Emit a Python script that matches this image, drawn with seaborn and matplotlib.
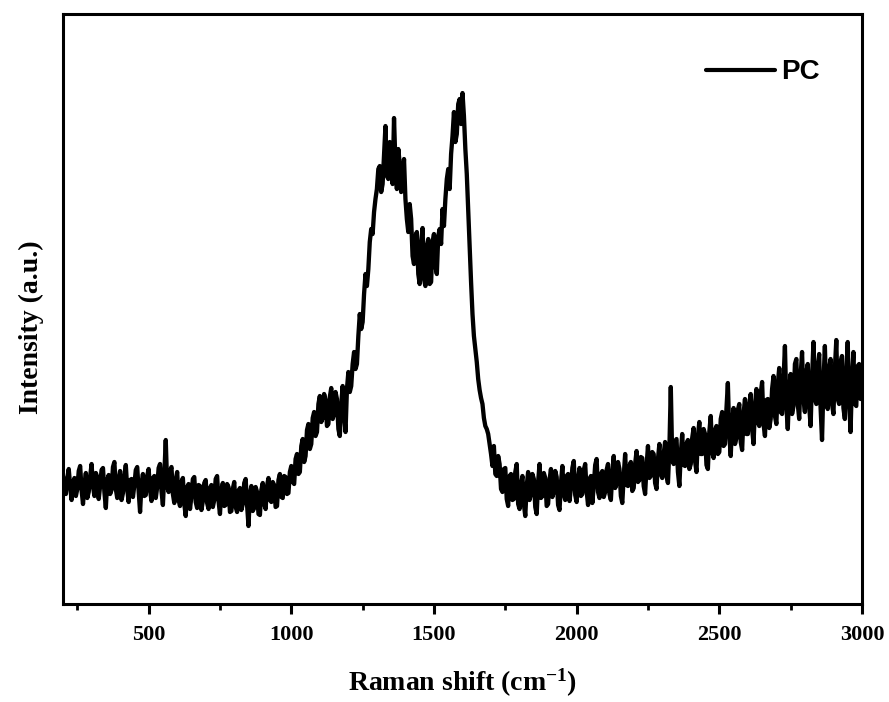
import matplotlib
matplotlib.use("Agg")
import matplotlib.pyplot as plt
import seaborn as sns
import pandas as pd

# Raman shift grid (cm^-1), 5 cm^-1 step, 200 .. 3000
raman_shift = list(range(200, 3001, 5))

# Intensity (arbitrary units), one row per 100 cm^-1
rows_low = [
    [128, 112, 110, 126, 135, 118, 104, 121, 126, 108, 115, 133, 138, 114, 100, 119, 131, 106, 112, 127],  # 200
    [140, 118, 108, 131, 127, 105, 118, 134, 136, 112, 96, 124, 129, 110, 114, 137, 142, 115, 106, 125],   # 300
    [133, 104, 111, 128, 139, 115, 102, 124, 125, 107, 119, 134, 137, 113, 92, 120, 130, 108, 109, 128],   # 400
    [135, 114, 103, 126, 128, 106, 117, 136, 140, 113, 99, 130, 164, 118, 112, 133, 137, 110, 101, 124],   # 500
    [132, 104, 98, 122, 126, 100, 88, 117, 120, 95, 108, 125, 127, 102, 96, 119, 118, 94, 103, 121],       # 600
    [124, 101, 95, 116, 119, 97, 104, 125, 128, 103, 90, 114, 121, 98, 99, 120, 117, 92, 93, 115],         # 700
    [122, 97, 92, 113, 116, 94, 100, 121, 125, 99, 78, 110, 118, 93, 96, 117, 112, 90, 89, 114],           # 800
    [121, 100, 95, 118, 126, 104, 102, 122, 119, 97, 98, 124, 130, 107, 106, 128, 127, 110, 111, 132],     # 900
]
rows_peaks = [
    [138, 122, 120, 145, 150, 130, 132, 158, 165, 142, 148, 174, 180, 155, 160, 186, 192, 168, 172, 200],  # 1000
    [208, 182, 186, 210, 204, 178, 180, 207, 216, 185, 190, 212, 205, 175, 168, 200, 218, 190, 172, 215],  # 1100
    [232, 212, 218, 240, 252, 235, 240, 268, 290, 275, 282, 310, 330, 318, 335, 362, 375, 370, 392, 405],  # 1200
    [415, 435, 438, 412, 420, 450, 478, 428, 425, 462, 452, 420, 486, 440, 415, 455, 440, 412, 418, 445],  # 1300
    [405, 385, 372, 400, 385, 348, 340, 368, 372, 330, 320, 360, 376, 325, 318, 358, 365, 320, 322, 362],  # 1400
    [370, 338, 330, 368, 375, 360, 395, 378, 405, 425, 435, 415, 450, 468, 492, 462, 470, 500, 505, 480],  # 1500
    [511, 488, 455, 430, 395, 358, 322, 290, 268, 255, 242, 225, 214, 206, 200, 186, 178, 175, 170, 160],  # 1600
    [150, 138, 158, 130, 128, 148, 140, 115, 112, 135, 136, 105, 98, 128, 130, 104, 105, 132, 140, 100],   # 1700
]
rows_high = [
    [95, 120, 128, 100, 88, 118, 132, 104, 110, 130, 125, 97, 90, 122, 140, 106, 108, 131, 126, 98],       # 1800
    [100, 124, 135, 107, 112, 133, 127, 99, 94, 121, 138, 110, 104, 128, 130, 103, 116, 136, 143, 109],    # 1900
    [102, 125, 136, 108, 110, 134, 140, 113, 99, 124, 128, 101, 118, 139, 145, 112, 106, 130, 133, 107],   # 2000
    [112, 134, 140, 110, 104, 131, 148, 116, 120, 142, 135, 108, 101, 128, 150, 119, 118, 138, 142, 113],  # 2100
    [116, 140, 153, 122, 124, 147, 146, 118, 110, 138, 158, 126, 128, 152, 150, 121, 115, 145, 160, 130],  # 2200
    [126, 150, 162, 128, 121, 155, 217, 145, 140, 163, 165, 132, 118, 150, 170, 139, 138, 160, 164, 135],  # 2300
    [140, 166, 176, 143, 132, 168, 182, 150, 150, 175, 170, 139, 135, 172, 188, 152, 146, 174, 178, 150],  # 2400
    [152, 185, 192, 158, 160, 195, 221, 170, 148, 182, 196, 160, 166, 194, 200, 162, 154, 190, 205, 170],  # 2500
    [170, 200, 210, 175, 160, 198, 215, 182, 178, 210, 222, 180, 168, 204, 205, 176, 185, 215, 228, 188],  # 2600
    [180, 220, 236, 192, 190, 225, 258, 198, 175, 215, 230, 190, 198, 240, 245, 200, 185, 228, 252, 205],  # 2700
    [192, 232, 240, 198, 178, 226, 262, 205, 200, 238, 250, 196, 164, 220, 258, 204, 195, 236, 245, 200],  # 2800
    [190, 235, 264, 205, 200, 242, 248, 196, 185, 230, 262, 204, 172, 225, 252, 200, 198, 238, 240, 205],  # 2900
    [214],                                                                                                 # 3000
]

intensity = [v for row in rows_low + rows_peaks + rows_high for v in row]

x_ticks = [500, 1000, 1500, 2000, 2500, 3000]
x_tick_labels = ["500", "1000", "1500", "2000", "2500", "3000"]
x_minor_ticks = [250, 750, 1250, 1750, 2250, 2750]
series_label = "PC"

df = pd.DataFrame({"shift": raman_shift, "intensity": intensity})

sns.set_style("ticks")
plt.rcParams["font.family"] = ["Liberation Serif", "DejaVu Serif"]
plt.rcParams["text.color"] = "black"
plt.rcParams["axes.labelcolor"] = "black"
plt.rcParams["xtick.color"] = "black"
plt.rcParams["mathtext.fontset"] = "custom"
plt.rcParams["mathtext.rm"] = "Liberation Serif:bold"
plt.rcParams["mathtext.bf"] = "Liberation Serif:bold"
plt.rcParams["mathtext.it"] = "Liberation Serif:bold"
plt.rcParams["mathtext.default"] = "bf"

fig = plt.figure(figsize=(8.89, 7.02), dpi=100)
ax = fig.add_axes([0.0709, 0.1396, 0.8987, 0.8404])

sns.lineplot(data=df, x="shift", y="intensity", ax=ax, color="black",
             linewidth=3.1, label=series_label, estimator=None, sort=False)

ax.set_xlim(200, 3000)
ax.set_ylim(0, 590)
ax.set_xticks(x_ticks)
ax.set_xticklabels(x_tick_labels)
ax.set_xticks(x_minor_ticks, minor=True)
ax.set_yticks([])

for s in ax.spines.values():
    s.set_visible(True)
    s.set_linewidth(2.2)
    s.set_color("black")

ax.tick_params(axis="x", which="major", direction="out", length=7, width=2.2,
               pad=8, labelsize=16, colors="black")
ax.tick_params(axis="x", which="minor", direction="out", length=4, width=2.0)
for lab in ax.get_xticklabels():
    lab.set_fontweight("bold")

ax.set_xlabel(r"Raman shift (cm$^{-1}$)", fontsize=20, fontweight="bold", labelpad=16)
ax.set_ylabel("Intensity (a.u.)", fontsize=20, fontweight="bold")
ax.yaxis.set_label_coords(-0.024, 0.47)

leg = ax.legend(loc="upper right", bbox_to_anchor=(0.947, 0.923), frameon=False,
                borderpad=0, borderaxespad=0, handlelength=2.5, handletextpad=0.2,
                prop={"family": "Liberation Sans", "weight": "bold", "size": 20})
for h in leg.get_lines():
    h.set_linewidth(3.0)

fig.savefig("out.png", dpi=100)
